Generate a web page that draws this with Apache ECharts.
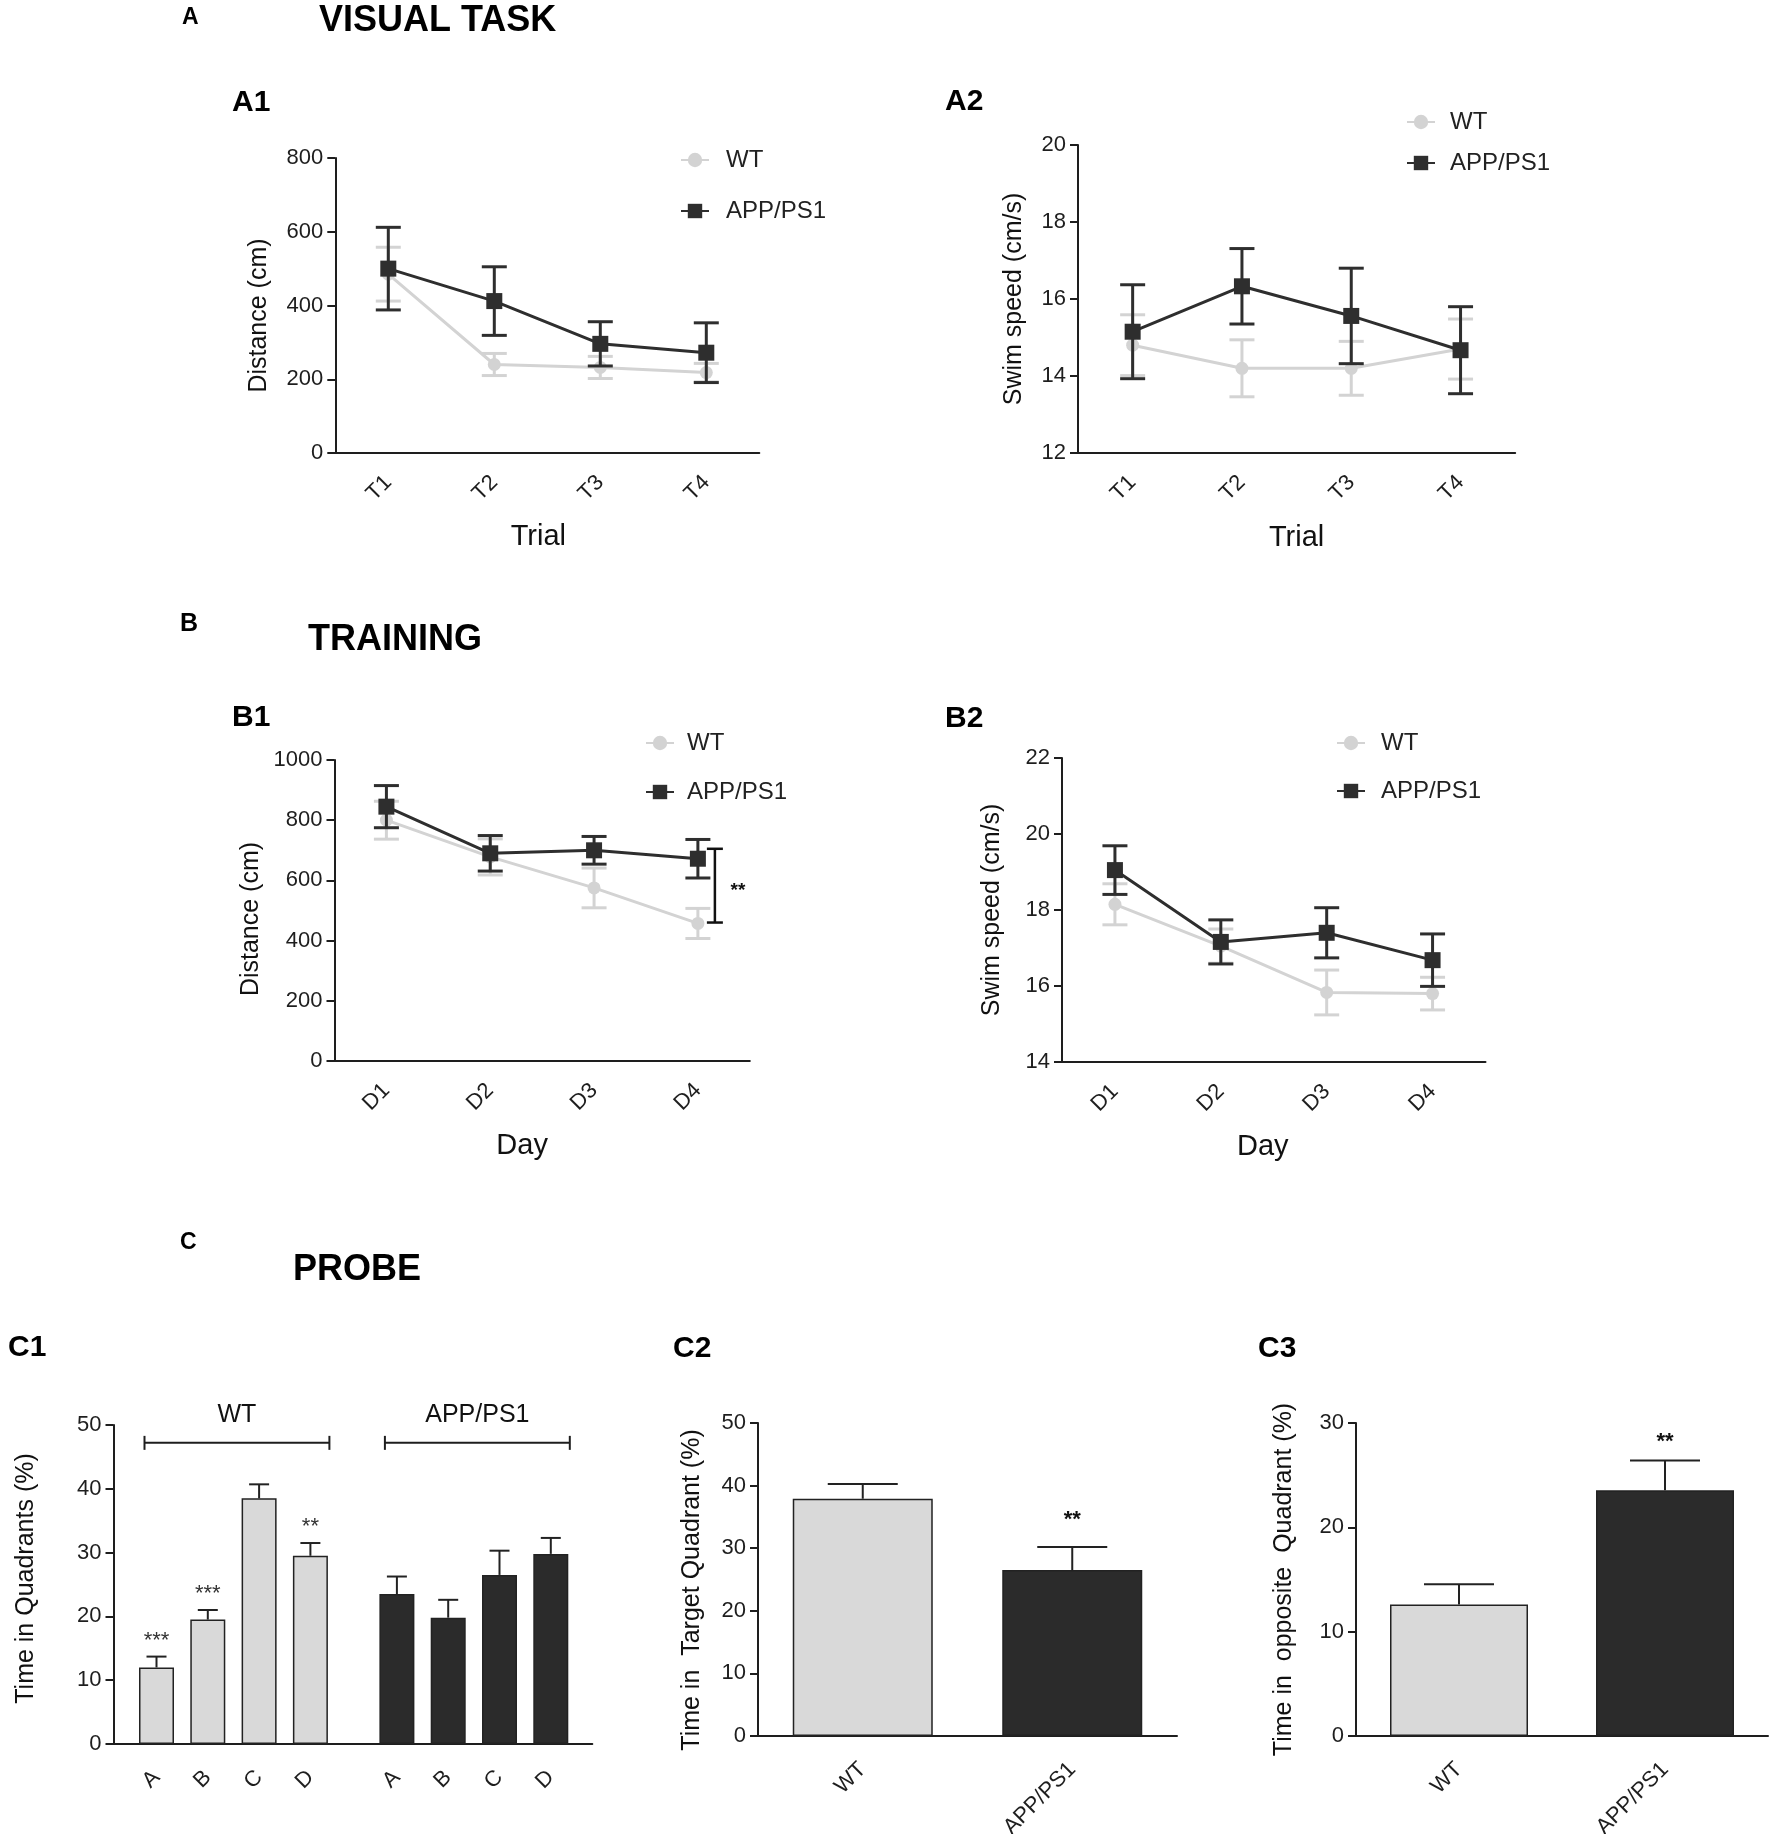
<!DOCTYPE html>
<html>
<head>
<meta charset="utf-8">
<title>Water maze: visual task, training, probe</title>
<script src="https://cdn.jsdelivr.net/npm/echarts@6/dist/echarts.min.js"></script>
<style>
    html, body { margin: 0; padding: 0; background: #fff; }
    #main { width: 1772px; height: 1834px; }
</style>
</head>
<body>
<div id="main"></div>
<script>
// categories / tick labels
var trials = ['T1', 'T2', 'T3', 'T4'];
var days = ['D1', 'D2', 'D3', 'D4'];
var quadrants = ['A', 'B', 'C', 'D'];
var groups = ['WT', 'APP/PS1'];

// A1 visual task, distance (cm): mean / SEM
var a1Wt = [485, 240, 232, 218];
var a1WtSem = [73, 30, 30, 25];
var a1App = [500, 412, 296, 272];
var a1AppSem = [112, 93, 60, 81];

// A2 visual task, swim speed (cm/s)
var a2Wt = [14.8, 14.2, 14.2, 14.7];
var a2WtSem = [0.79, 0.74, 0.70, 0.78];
var a2App = [15.15, 16.33, 15.56, 14.67];
var a2AppSem = [1.22, 0.98, 1.24, 1.13];

// B1 training, distance (cm)
var b1Wt = [800, 678, 575, 457];
var b1WtSem = [63, 60, 66, 50];
var b1App = [845, 690, 700, 672];
var b1AppSem = [70, 59, 46, 64];
var b1Bracket = [460, 705];

// B2 training, swim speed (cm/s)
var b2Wt = [18.15, 17.05, 15.83, 15.8];
var b2WtSem = [0.54, 0.45, 0.59, 0.43];
var b2App = [19.05, 17.16, 17.4, 16.68];
var b2AppSem = [0.64, 0.58, 0.66, 0.69];

// C1 probe, time in quadrants (%)
var c1Wt = [12.0, 19.5, 38.5, 29.5];
var c1WtSem = [1.7, 1.5, 2.2, 2.0];
var c1WtSig = ['***', '***', '', '**'];
var c1App = [23.5, 19.8, 26.5, 29.8];
var c1AppSem = [2.75, 2.8, 3.8, 2.5];
var c1BracketLevel = 47.2;

// C2 time in target quadrant (%), C3 time in opposite quadrant (%)
var c2Mean = [37.9, 26.5];
var c2Sem = [2.35, 3.7];
var c2Sig = ['', '**'];
var c3Mean = [12.6, 23.55];
var c3Sem = [1.95, 2.85];
var c3Sig = ['', '**'];

// fonts: tick labels and y titles use a narrow face when one is installed
var probe = document.createElement('canvas').getContext('2d');
function fontExists(name) {
    probe.font = '40px monospace';
    var base = probe.measureText('mmmWWWiii 0123').width;
    probe.font = '40px "' + name + '", monospace';
    return probe.measureText('mmmWWWiii 0123').width !== base;
}
var FONT = '"Liberation Sans", Arial, sans-serif';
var HAS_NARROW = fontExists('Liberation Sans Narrow');
var NARROW = HAS_NARROW ? '"Liberation Sans Narrow", ' + FONT : FONT;
var TICK_SIZE = HAS_NARROW ? 23 : 22;
var YNAME_SIZE = HAS_NARROW ? 28 : 25;

var WT_LINE = '#d3d3d3';
var APP_LINE = '#2e2e2e';
var WT_BAR = '#d9d9d9';
var APP_BAR = '#2b2b2b';
var INK = '#1e1e1e';

function bold(size) { return 'bold ' + size + 'px ' + FONT; }

var chart = echarts.init(document.getElementById('main'));

// error bar drawing (vertical line + caps, optional stars above)
function errorBars(opt) {
    return function (params, api) {
        var x = api.value(0);
        var top = api.coord([x, api.value(2)]);
        var bot = api.coord([x, api.value(1)]);
        var h = opt.cap / 2;
        var st = { stroke: opt.color, lineWidth: opt.width };
        var kids = [
            { type: 'line', shape: { x1: top[0], y1: top[1], x2: bot[0], y2: bot[1] }, style: st },
            { type: 'line', shape: { x1: top[0] - h, y1: top[1], x2: top[0] + h, y2: top[1] }, style: st }
        ];
        if (opt.both) {
            kids.push({ type: 'line', shape: { x1: bot[0] - h, y1: bot[1], x2: bot[0] + h, y2: bot[1] }, style: st });
        }
        var s = opt.sig && opt.sig[params.dataIndex];
        if (s) {
            kids.push({ type: 'text', x: top[0], y: top[1] - opt.sigGap,
                style: { text: s, font: opt.sigFont, fill: opt.sigColor || '#111', align: 'center', verticalAlign: 'middle' } });
        }
        return { type: 'group', children: kids };
    };
}

function semData(mean, sem, both) {
    return mean.map(function (v, i) { return [i, both ? v - sem[i] : v, v + sem[i]]; });
}

function lineAxisX(g, cats, name, nameGap, namePad) {
    return {
        gridIndex: g, type: 'category', data: cats, boundaryGap: true,
        axisLine: { lineStyle: { color: INK, width: 2 } },
        axisTick: { alignWithLabel: true, length: 9, lineStyle: { color: INK, width: 2 } },
        axisLabel: { rotate: 45, margin: 26, fontSize: TICK_SIZE, fontFamily: NARROW, color: INK },
        name: name, nameLocation: 'middle', nameGap: nameGap, nameMoveOverlap: false,
        nameTextStyle: { fontSize: 29, fontFamily: FONT, color: '#111', padding: namePad }
    };
}

function valueAxisY(g, min, max, step, name, nameGap, namePad, extra) {
    var ax = {
        gridIndex: g, type: 'value', min: min, max: max, interval: step,
        axisLine: { show: true, lineStyle: { color: INK, width: 2 } },
        axisTick: { show: true, length: 8, lineStyle: { color: INK, width: 2 } },
        splitLine: { show: false },
        axisLabel: { margin: 12, fontSize: TICK_SIZE, fontFamily: NARROW, color: INK,
            formatter: function (v) { return String(v); } },
        name: name, nameLocation: 'middle', nameGap: nameGap, nameMoveOverlap: false,
        nameTextStyle: { fontSize: YNAME_SIZE, fontFamily: NARROW, color: '#111', padding: namePad }
    };
    for (var k in extra) ax[k] = extra[k];
    return ax;
}

function linePair(g, wt, wtSem, app, appSem) {
    return [
        { type: 'custom', name: 'WT sem', xAxisIndex: g, yAxisIndex: g, z: 1,
          data: semData(wt, wtSem, true), encode: { x: 0, y: [1, 2] },
          renderItem: errorBars({ color: WT_LINE, width: 3, cap: 25, both: true }) },
        { type: 'line', name: 'WT', xAxisIndex: g, yAxisIndex: g, z: 2, data: wt,
          symbol: 'circle', symbolSize: 13, itemStyle: { color: WT_LINE },
          lineStyle: { color: WT_LINE, width: 3 } },
        { type: 'custom', name: 'APP sem', xAxisIndex: g, yAxisIndex: g, z: 3,
          data: semData(app, appSem, true), encode: { x: 0, y: [1, 2] },
          renderItem: errorBars({ color: APP_LINE, width: 3, cap: 25, both: true }) },
        { type: 'line', name: 'APP/PS1', xAxisIndex: g, yAxisIndex: g, z: 4, data: app,
          symbol: 'rect', symbolSize: 16, itemStyle: { color: APP_LINE },
          lineStyle: { color: APP_LINE, width: 3 } }
    ];
}

function legendAt(left, top, gap, pad) {
    return {
        data: ['WT', 'APP/PS1'], orient: 'vertical', left: left, top: top, itemGap: gap,
        itemWidth: 28, itemHeight: 18, selectedMode: false,
        textStyle: { fontSize: 24, lineHeight: 24, fontFamily: FONT, color: '#222', padding: [0, 0, 0, pad] }
    };
}

function groupBracket(label) {
    return function (params, api) {
        var a = api.coord([api.value(0), api.value(2)]);
        var b = api.coord([api.value(1), api.value(2)]);
        var x1 = a[0] - 12, x2 = b[0] + 19, y = a[1];
        var st = { stroke: INK, lineWidth: 2 };
        return { type: 'group', children: [
            { type: 'line', shape: { x1: x1, y1: y, x2: x2, y2: y }, style: st },
            { type: 'line', shape: { x1: x1, y1: y - 7, x2: x1, y2: y + 7 }, style: st },
            { type: 'line', shape: { x1: x2, y1: y - 7, x2: x2, y2: y + 7 }, style: st },
            { type: 'text', x: (x1 + x2) / 2, y: y - 28,
              style: { text: label, font: '25px ' + FONT, fill: '#111', align: 'center', verticalAlign: 'middle' } }
        ] };
    };
}

function sigBracket(params, api) {
    var hi = api.coord([api.value(0), api.value(2)]);
    var lo = api.coord([api.value(0), api.value(1)]);
    var x = hi[0] + 17;
    var st = { stroke: '#111', lineWidth: 2.5 };
    return { type: 'group', children: [
        { type: 'line', shape: { x1: x, y1: hi[1], x2: x, y2: lo[1] }, style: st },
        { type: 'line', shape: { x1: x - 8, y1: hi[1], x2: x + 8, y2: hi[1] }, style: st },
        { type: 'line', shape: { x1: x - 8, y1: lo[1], x2: x + 8, y2: lo[1] }, style: st },
        { type: 'text', x: x + 23, y: (hi[1] + lo[1]) / 2 + 5,
          style: { text: '**', font: bold(19), fill: '#111', align: 'center', verticalAlign: 'middle' } }
    ] };
}

function barAxisX(g, cats, extra) {
    var ax = {
        gridIndex: g, type: 'category', data: cats, boundaryGap: true,
        axisLine: { lineStyle: { color: INK, width: 2 } },
        axisTick: { alignWithLabel: true, length: 9, lineStyle: { color: INK, width: 2 } },
        axisLabel: { rotate: 45, margin: 30, fontSize: TICK_SIZE, fontFamily: NARROW, color: INK, interval: 0 }
    };
    for (var k in extra) ax[k] = extra[k];
    return ax;
}

function coloredBars(mean) {
    return mean.map(function (v, i) {
        return { value: v, itemStyle: { color: i === 0 ? WT_BAR : APP_BAR } };
    });
}

function grid(l, t, w, h) {
    return { left: l, top: t, width: w, height: h, containLabel: false, outerBoundsMode: 'none' };
}

var series = []
    .concat(linePair(0, a1Wt, a1WtSem, a1App, a1AppSem))
    .concat(linePair(1, a2Wt, a2WtSem, a2App, a2AppSem))
    .concat(linePair(2, b1Wt, b1WtSem, b1App, b1AppSem))
    .concat(linePair(3, b2Wt, b2WtSem, b2App, b2AppSem));

// B1 significance bracket at D4
series.push({ type: 'custom', name: 'b1 sig', xAxisIndex: 2, yAxisIndex: 2, z: 5,
    data: [[3, b1Bracket[0], b1Bracket[1]]], encode: { x: 0, y: [1, 2] }, renderItem: sigBracket });

// C1 bars (grid 5 = WT, grid 6 = APP/PS1)
series.push(
    { type: 'bar', name: 'c1 WT', xAxisIndex: 5, yAxisIndex: 5, data: c1Wt, barWidth: 35,
      itemStyle: { color: WT_BAR, borderColor: '#222', borderWidth: 1.5 } },
    { type: 'custom', name: 'c1 WT sem', xAxisIndex: 5, yAxisIndex: 5, z: 3,
      data: semData(c1Wt, c1WtSem, false), encode: { x: 0, y: [1, 2] },
      renderItem: errorBars({ color: '#222', width: 2, cap: 20, both: false, sig: c1WtSig, sigGap: 16,
          sigFont: '22px ' + FONT, sigColor: '#333' }) },
    { type: 'custom', name: 'c1 WT group', xAxisIndex: 5, yAxisIndex: 5,
      data: [[0, 3, c1BracketLevel]], encode: { x: [0, 1], y: 2 }, renderItem: groupBracket(groups[0]) },
    { type: 'bar', name: 'c1 APP', xAxisIndex: 6, yAxisIndex: 6, data: c1App, barWidth: 35,
      itemStyle: { color: APP_BAR, borderColor: '#222', borderWidth: 1.5 } },
    { type: 'custom', name: 'c1 APP sem', xAxisIndex: 6, yAxisIndex: 6, z: 3,
      data: semData(c1App, c1AppSem, false), encode: { x: 0, y: [1, 2] },
      renderItem: errorBars({ color: '#222', width: 2, cap: 20, both: false }) },
    { type: 'custom', name: 'c1 APP group', xAxisIndex: 6, yAxisIndex: 6,
      data: [[0, 3, c1BracketLevel]], encode: { x: [0, 1], y: 2 }, renderItem: groupBracket(groups[1]) }
);

// C2, C3 bars
series.push(
    { type: 'bar', name: 'c2', xAxisIndex: 7, yAxisIndex: 7, data: coloredBars(c2Mean), barWidth: 140,
      itemStyle: { borderColor: '#222', borderWidth: 1.5 } },
    { type: 'custom', name: 'c2 sem', xAxisIndex: 7, yAxisIndex: 7, z: 3,
      data: semData(c2Mean, c2Sem, false), encode: { x: 0, y: [1, 2] },
      renderItem: errorBars({ color: '#222', width: 2, cap: 70, both: false, sig: c2Sig, sigGap: 27,
          sigFont: bold(22) }) },
    { type: 'bar', name: 'c3', xAxisIndex: 8, yAxisIndex: 8, data: coloredBars(c3Mean), barWidth: 138,
      itemStyle: { borderColor: '#222', borderWidth: 1.5 } },
    { type: 'custom', name: 'c3 sem', xAxisIndex: 8, yAxisIndex: 8, z: 3,
      data: semData(c3Mean, c3Sem, false), encode: { x: 0, y: [1, 2] },
      renderItem: errorBars({ color: '#222', width: 2, cap: 70, both: false, sig: c3Sig, sigGap: 19,
          sigFont: bold(22) }) }
);

series.forEach(function (s) { s.animation = false; });

function heading(text, x, y, size) {
    return { type: 'text', x: x, y: y,
        style: { text: text, font: bold(size), fill: '#000', verticalAlign: 'middle' } };
}

var option = {
    backgroundColor: '#fff',
    animation: false,
    graphic: [
        heading('A', 182, 18, 23), heading('VISUAL TASK', 319, 21, 36),
        heading('A1', 232, 103, 30), heading('A2', 945, 102, 30),
        heading('B', 180, 624, 25), heading('TRAINING', 308, 640, 36),
        heading('B1', 232, 718, 30), heading('B2', 945, 719, 30),
        heading('C', 180, 1243, 23), heading('PROBE', 293, 1270, 36),
        heading('C1', 8, 1348, 30), heading('C2', 673, 1349, 30), heading('C3', 1258, 1349, 30)
    ],
    legend: [
        legendAt(675, 143, 27, 12),
        legendAt(1401, 105, 17, 10),
        legendAt(640, 726, 25, 8),
        legendAt(1331, 726, 24, 11)
    ],
    grid: [
        grid(335.3, 158, 424, 295),
        grid(1078, 145, 437.2, 308),
        grid(334.5, 760, 415.3, 301),
        grid(1062, 758, 423.5, 304),
        grid(113.5, 1425, 478.8, 319),
        grid(130.85, 1425, 205.2, 319),
        grid(371.25, 1425, 205.2, 319),
        grid(758, 1423, 419, 313),
        grid(1356, 1423, 412, 313)
    ],
    xAxis: [
        lineAxisX(0, trials, 'Trial', 69, [0, 18, 0, 0]),
        lineAxisX(1, trials, 'Trial', 70, [0, 0, 0, 0]),
        lineAxisX(2, days, 'Day', 70, [0, 40, 0, 0]),
        lineAxisX(3, days, 'Day', 70, [0, 22, 0, 0]),
        { gridIndex: 4, type: 'value', min: 0, max: 1,
          axisLine: { show: true, onZero: false, lineStyle: { color: INK, width: 2 } },
          axisTick: { show: false }, axisLabel: { show: false }, splitLine: { show: false } },
        barAxisX(5, quadrants, { axisLine: { show: false } }),
        barAxisX(6, quadrants, { axisLine: { show: false } }),
        barAxisX(7, groups),
        barAxisX(8, groups)
    ],
    yAxis: [
        valueAxisY(0, 0, 800, 200, 'Distance (cm)', 64, [0, 20, 0, 0]),
        valueAxisY(1, 12, 20, 2, 'Swim speed (cm/s)', 51, [0, 0, 0, 0]),
        valueAxisY(2, 0, 1000, 200, 'Distance (cm)', 71, [0, 17, 0, 0]),
        valueAxisY(3, 14, 22, 2, 'Swim speed (cm/s)', 57, [0, 0, 0, 0]),
        { gridIndex: 4, type: 'value', min: 0, max: 1, show: false },
        valueAxisY(5, 0, 50, 10, 'Time in Quadrants (%)', 75, [0, 0, 0, 12], { offset: 17.35 }),
        valueAxisY(6, 0, 50, 10, '', 0, [0, 0, 0, 0], { show: false }),
        valueAxisY(7, 0, 50, 10, 'Time in  Target Quadrant (%)', 53, [0, 21, 0, 0]),
        valueAxisY(8, 0, 30, 10, 'Time in  opposite  Quadrant (%)', 59, [0, 0, 0, 0])
    ],
    series: series
};

chart.setOption(option);
</script>
</body>
</html>
